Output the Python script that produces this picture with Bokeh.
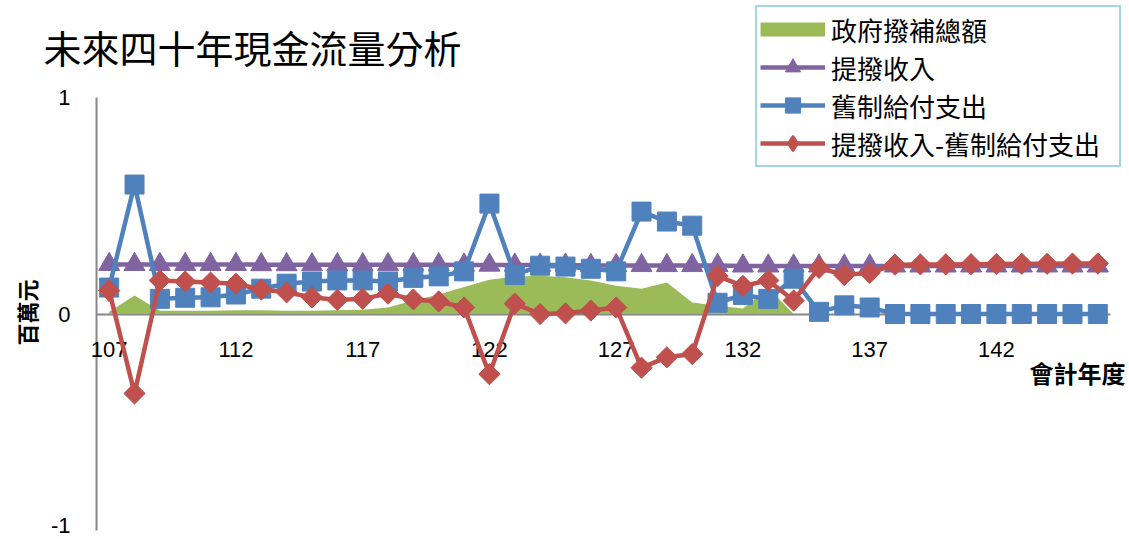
import math
from bokeh.plotting import figure
from bokeh.models import (Legend, LegendItem, Label, FixedTicker, ColumnDataSource,
                          LinearAxis, Range1d)
from bokeh.core.properties import value
from bokeh.embed import file_html
from bokeh.resources import INLINE

# ---------------- data ----------------
years = list(range(107, 147))

subsidy = [0.01, 0.085, 0.015, 0.015, 0.015, 0.017, 0.017, 0.015, 0.015, 0.017,
           0.02, 0.03, 0.062, 0.09, 0.125, 0.158, 0.172, 0.177, 0.17, 0.155,
           0.13, 0.117, 0.145, 0.053, 0.038, 0.025, 0.12, 0.0, 0.0, 0.0,
           0.0, 0.0, 0.0, 0.0, 0.0, 0.0, 0.0, 0.0, 0.0, 0.0]

income = [0.229, 0.229, 0.229, 0.229, 0.229, 0.229, 0.228, 0.228, 0.228, 0.228,
          0.228, 0.228, 0.228, 0.228, 0.226, 0.226, 0.226, 0.226, 0.226, 0.224,
          0.224, 0.224, 0.224, 0.224, 0.224, 0.222, 0.222, 0.222, 0.222, 0.222,
          0.222, 0.222, 0.222, 0.222, 0.222, 0.222, 0.222, 0.222, 0.222, 0.222]

payout = [0.122, 0.598, 0.07, 0.075, 0.077, 0.09, 0.117, 0.14, 0.15, 0.155,
          0.155, 0.15, 0.167, 0.174, 0.197, 0.51, 0.18, 0.223, 0.219, 0.209,
          0.197, 0.473, 0.427, 0.408, 0.052, 0.088, 0.07, 0.163, 0.01, 0.04,
          0.03, 0.0, 0.0, 0.0, 0.0, 0.0, 0.0, 0.0, 0.0, 0.0]

net = [0.108, -0.367, 0.155, 0.15, 0.145, 0.14, 0.113, 0.1, 0.077, 0.065,
       0.07, 0.094, 0.067, 0.058, 0.03, -0.278, 0.048, 0.0, 0.003, 0.016,
       0.03, -0.248, -0.2, -0.185, 0.175, 0.13, 0.155, 0.062, 0.213, 0.18,
       0.19, 0.228, 0.229, 0.229, 0.23, 0.231, 0.232, 0.232, 0.233, 0.233]

x_ticks = [107, 112, 117, 122, 127, 132, 137, 142]
y_ticks = [-1, 0, 1]

title_text = "未來四十年現金流量分析"
series_names = ["政府撥補總額", "提撥收入", "舊制給付支出", "提撥收入-舊制給付支出"]
y_label = "百萬元"
x_label = "會計年度"

# ---------------- layout / style ----------------
W, H = 1129, 539
PA_L, PA_R, PA_T, PA_B = 96, 1110, 97, 530      # plot area in pixels
X0, X1 = years[0] - 0.5, years[-1] + 0.5         # category axis extent
Y0, Y1 = y_ticks[0], y_ticks[-1]
ppx = (PA_R - PA_L) / (X1 - X0)
ppy = (PA_B - PA_T) / (Y1 - Y0)
x_range = Range1d(X0 - PA_L / ppx, X1 + (W - PA_R) / ppx)
y_range = Range1d(Y0 - (H - PA_B) / ppy, Y1 + PA_T / ppy)

GREEN = "#9BBB59"
PURPLE = "#8064A2"
BLUE = "#4F81BD"
RED = "#C0504D"
AXIS = "#868686"
CJK = "Noto Sans CJK TC"
LAT = "Liberation Sans"

src = ColumnDataSource(dict(year=years, subsidy=subsidy, income=income,
                            payout=payout, net=net, zero=[0.0] * len(years)))

p = figure(width=W, height=H, x_range=x_range, y_range=y_range,
           output_backend="svg", toolbar_location=None,
           x_axis_location=None, y_axis_location=None,
           min_border_left=0, min_border_right=0, min_border_top=0, min_border_bottom=0)
p.grid.visible = False
p.outline_line_color = None
p.background_fill_color = "white"
p.border_fill_color = "white"


def bare_axis(ax):
    ax.major_tick_line_color = None
    ax.minor_tick_line_color = None
    ax.major_tick_out = 0
    ax.minor_tick_out = 0
    ax.major_tick_in = 0
    ax.minor_tick_in = 0
    ax.major_label_standoff = 0
    ax.major_label_text_color = None
    ax.axis_line_color = AXIS
    ax.axis_line_width = 2
    ax.level = "underlay"
    return ax


yax = bare_axis(LinearAxis(fixed_location=X0, bounds=(Y0, Y1), ticker=FixedTicker(ticks=y_ticks)))
p.add_layout(yax, "left")
xax = bare_axis(LinearAxis(fixed_location=0, bounds=(X0, X1), ticker=FixedTicker(ticks=x_ticks)))
p.add_layout(xax, "below")

# tick labels
p.text(x=x_ticks, y=[0] * len(x_ticks), text=[str(t) for t in x_ticks],
       y_offset=35, text_align="center", text_baseline="middle",
       text_font=value(LAT), text_font_size="22px", text_color="black")
ylab_src = ColumnDataSource(dict(x=[X0] * len(y_ticks), y=y_ticks,
                                 t=[str(t) for t in y_ticks],
                                 dy=[-5 if t == Y0 else 0 for t in y_ticks]))
p.text(x="x", y="y", text="t", source=ylab_src,
       x_offset=-26, y_offset="dy", text_align="right", text_baseline="middle",
       text_font=value(LAT), text_font_size="22px", text_color="black")

# series
area = p.varea(x="year", y1="zero", y2="subsidy", source=src, fill_color=GREEN)
area_swatch = p.line(x=[years[0]], y=[0], line_color=GREEN, line_width=14)

inc_l = p.line("year", "income", source=src, line_color=PURPLE, line_width=4.5, line_join="round")
inc_m = p.scatter("year", "income", source=src, marker="triangle", size=21,
                  fill_color=PURPLE, line_color=PURPLE)

pay_l = p.line("year", "payout", source=src, line_color=BLUE, line_width=4.5, line_join="round")
pay_m = p.scatter("year", "payout", source=src, marker="square", size=19,
                  fill_color=BLUE, line_color=BLUE)

net_l = p.line("year", "net", source=src, line_color=RED, line_width=4.5, line_join="round")
net_m = p.scatter("year", "net", source=src, marker="square", angle=math.pi / 4, size=15,
                  fill_color=RED, line_color=RED)
net_swatch = p.scatter(x=[years[0]], y=[net[0]], marker="diamond", size=21,
                       fill_color=RED, line_color=RED, line_width=2)

legend = Legend(items=[
    LegendItem(label=series_names[0], renderers=[area_swatch]),
    LegendItem(label=series_names[1], renderers=[inc_l, inc_m]),
    LegendItem(label=series_names[2], renderers=[pay_l, pay_m]),
    LegendItem(label=series_names[3], renderers=[net_l, net_swatch]),
], location=(755, H - 167), padding=3, spacing=0, glyph_width=65, glyph_height=38,
    label_height=38, label_width=285, label_standoff=6,
    label_text_font=CJK, label_text_font_size="26px", label_text_color="black",
    border_line_color="#4BACC6", border_line_width=2, background_fill_color="white",
    background_fill_alpha=1.0, margin=0)
p.add_layout(legend)

# title and axis titles
p.add_layout(Label(x=43, y=H - 46, x_units="screen", y_units="screen", text=title_text,
                   text_font=CJK, text_font_size="38px", text_color="black",
                   text_align="left", text_baseline="middle"))
p.add_layout(Label(x=1125, y=H - 372, x_units="screen", y_units="screen", text=x_label,
                   text_font=CJK, text_font_size="24px", text_font_style="bold",
                   text_color="black", text_align="right", text_baseline="middle"))
p.add_layout(Label(x=25, y=H - 312, x_units="screen", y_units="screen", text=y_label,
                   angle=math.pi / 2, text_font=CJK, text_font_size="22px",
                   text_font_style="bold", text_color="black",
                   text_align="center", text_baseline="middle"))

open("out.html", "w").write(file_html(p, INLINE))
